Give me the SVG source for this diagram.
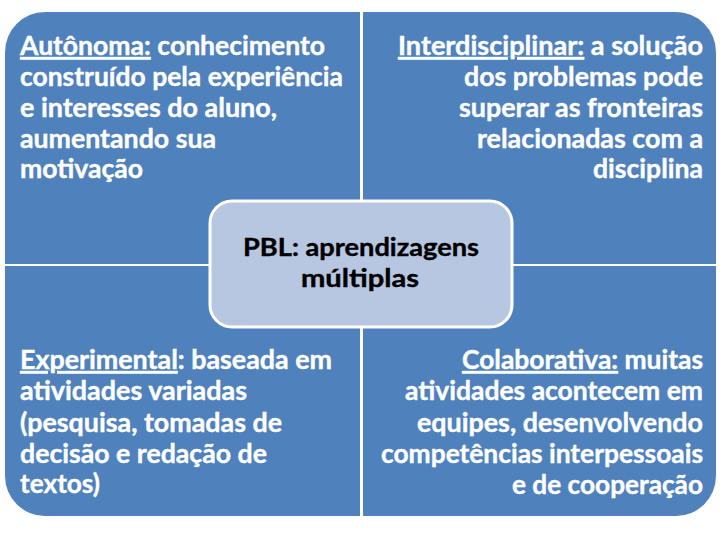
<svg xmlns="http://www.w3.org/2000/svg" width="720" height="540" viewBox="0 0 720 540">
<style>
.q{fill:#4F81BD;}
.t{font-family:Lato,"Liberation Sans",sans-serif;font-weight:bold;font-size:27px;fill:#FFFFFF;stroke:#FFFFFF;stroke-width:0.4;}
.e{text-anchor:end;}
.u{text-decoration:underline;}
.c{font-family:Lato,"Liberation Sans",sans-serif;font-weight:bold;font-size:25px;fill:#000000;stroke:#000000;stroke-width:0.4;text-anchor:middle;}
</style>
<rect width="720" height="540" fill="#FFFFFF"/>
<g id="autonoma">
<path class="q" d="M5,264 V52 A40,40 0 0 1 45,12 H360 V264 Z"/>
<text class="t" x="20" y="55" textLength="305" lengthAdjust="spacingAndGlyphs"><tspan class="u">Autônoma:</tspan> conhecimento</text>
<text class="t" x="20" y="86" textLength="323" lengthAdjust="spacingAndGlyphs">construído pela experiência</text>
<text class="t" x="20" y="117" textLength="257" lengthAdjust="spacingAndGlyphs">e interesses do aluno,</text>
<text class="t" x="20" y="148" textLength="196" lengthAdjust="spacingAndGlyphs">aumentando sua</text>
<text class="t" x="20" y="178" textLength="123" lengthAdjust="spacingAndGlyphs">motivação</text>
</g>
<g id="interdisciplinar">
<path class="q" d="M363,12 H676 A40,40 0 0 1 716,52 V264 H363 Z"/>
<text class="t e" x="703" y="55" textLength="305" lengthAdjust="spacingAndGlyphs"><tspan class="u">Interdisciplinar:</tspan> a solução</text>
<text class="t e" x="703" y="86" textLength="239" lengthAdjust="spacingAndGlyphs">dos problemas pode</text>
<text class="t e" x="703" y="117" textLength="244" lengthAdjust="spacingAndGlyphs">superar as fronteiras</text>
<text class="t e" x="703" y="148" textLength="226" lengthAdjust="spacingAndGlyphs">relacionadas com a</text>
<text class="t e" x="703" y="178" textLength="110" lengthAdjust="spacingAndGlyphs">disciplina</text>
</g>
<g id="experimental">
<path class="q" d="M5,266 H360 V516 H45 A40,40 0 0 1 5,476 Z"/>
<text class="t" x="20" y="369" textLength="312" lengthAdjust="spacingAndGlyphs"><tspan class="u">Experimental</tspan>: baseada em</text>
<text class="t" x="20" y="400" textLength="227" lengthAdjust="spacingAndGlyphs">atividades variadas</text>
<text class="t" x="20" y="432" textLength="262" lengthAdjust="spacingAndGlyphs">(pesquisa, tomadas de</text>
<text class="t" x="20" y="463" textLength="247" lengthAdjust="spacingAndGlyphs">decisão e redação de</text>
<text class="t" x="20" y="493" textLength="80" lengthAdjust="spacingAndGlyphs">textos)</text>
</g>
<g id="colaborativa">
<path class="q" d="M363,266 H716 V476 A40,40 0 0 1 676,516 H363 Z"/>
<text class="t e" x="703" y="369" textLength="241" lengthAdjust="spacingAndGlyphs"><tspan class="u">Colaborativa:</tspan> muitas</text>
<text class="t e" x="703" y="400" textLength="298" lengthAdjust="spacingAndGlyphs">atividades acontecem em</text>
<text class="t e" x="703" y="432" textLength="286" lengthAdjust="spacingAndGlyphs">equipes, desenvolvendo</text>
<text class="t e" x="703" y="463" textLength="322" lengthAdjust="spacingAndGlyphs">competências interpessoais</text>
<text class="t e" x="703" y="494" textLength="191" lengthAdjust="spacingAndGlyphs">e de cooperação</text>
</g>
<g id="pbl">
<rect x="210" y="201" width="302" height="126" rx="22" ry="22" fill="#B7C7E1" stroke="#FFFFFF" stroke-width="3"/>
<text class="c" x="361" y="256" textLength="236" lengthAdjust="spacingAndGlyphs">PBL: aprendizagens</text>
<text class="c" x="360" y="287" textLength="118" lengthAdjust="spacingAndGlyphs">múltiplas</text>
</g>
<g id="connectors"/>
</svg>
